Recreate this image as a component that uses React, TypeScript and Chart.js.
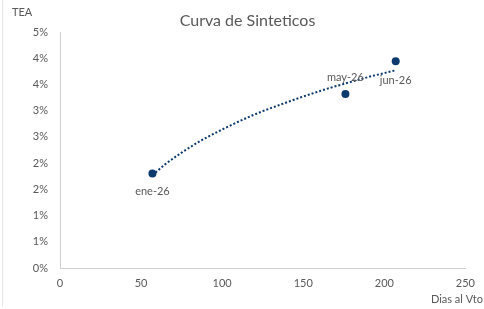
import React, { useEffect, useRef } from "react";
import { Chart, registerables } from "chart.js";

Chart.register(...registerables);

const pointLabels = ["ene-26", "may-26", "jun-26"];
const pointDays = [57, 176, 207];
const pointTea = [1.8, 3.32, 3.94];

// logarithmic trendline
const trendDays = [57, 65, 75, 87, 100, 115, 125, 140, 150, 165, 175, 190, 207];
const trendTea = [1.77, 1.98, 2.2, 2.43, 2.64, 2.86, 2.99, 3.16, 3.27, 3.42, 3.51, 3.64, 3.77];

const yTicks = [0, 0.5, 1, 1.5, 2, 2.5, 3, 3.5, 4, 4.5];
const xTicks = [0, 50, 100, 150, 200, 250];

const TEXT = "#595959";
const NAVY = "#0C3A6C";
const FONT = "Lato, 'Open Sans', sans-serif";

export default function App() {
  const ref = useRef<HTMLCanvasElement | null>(null);

  useEffect(() => {
    document.body.style.margin = "0";
    const canvas = ref.current!;
    const labelPlugin = {
      id: "extras",
      beforeDraw(chart: any) {
        const ctx = chart.ctx;
        ctx.save();
        ctx.strokeStyle = "#E6E6E6";
        ctx.lineWidth = 1;
        ctx.beginPath();
        ctx.moveTo(2.5, 0);
        ctx.lineTo(2.5, 306);
        ctx.stroke();
        ctx.restore();
      },
      afterDraw(chart: any) {
        const ctx = chart.ctx;
        const xs = chart.scales.x;
        const ys = chart.scales.y;
        ctx.save();
        ctx.fillStyle = TEXT;
        ctx.textAlign = "center";
        ctx.textBaseline = "middle";
        ctx.font = `16px ${FONT}`;
        ctx.fillText("Curva de Sinteticos", 247.5, 21);
        ctx.font = `11px ${FONT}`;
        ctx.textAlign = "left";
        ctx.fillText("TEA", 12, 12);
        ctx.textAlign = "right";
        ctx.fillText("Dias al Vto", 483, 299);
        ctx.textAlign = "center";
        const offsets = [18, -16, 19];
        pointLabels.forEach((lab, i) => {
          const px = xs.getPixelForValue(pointDays[i]);
          const py = ys.getPixelForValue(pointTea[i]);
          ctx.fillText(lab, px, py + offsets[i]);
        });
        ctx.restore();
      },
    };

    const chart = new Chart(canvas, {
      type: "scatter",
      data: {
        datasets: [
          {
            label: "Trend",
            data: trendDays.map((d, i) => ({ x: d, y: trendTea[i] })),
            showLine: true,
            borderColor: NAVY,
            borderWidth: 2,
            borderDash: [2, 2],
            pointRadius: 0,
            cubicInterpolationMode: "monotone",
            order: 2,
          } as any,
          {
            label: "TEA",
            data: pointDays.map((d, i) => ({ x: d, y: pointTea[i] })),
            backgroundColor: NAVY,
            borderColor: NAVY,
            pointRadius: 4,
            pointBorderWidth: 0,
            order: 1,
          },
        ],
      },
      options: {
        animation: false,
        responsive: false,
        maintainAspectRatio: false,
        layout: { padding: { top: 32, right: 17, left: 0, bottom: 0 } },
        plugins: {
          legend: { display: false },
          tooltip: { enabled: false },
        },
        scales: {
          x: {
            type: "linear",
            min: 0,
            max: 250,
            afterBuildTicks: (s: any) => {
              s.ticks = xTicks.map((v) => ({ value: v }));
            },
            afterFit: (s: any) => {
              s.height = 41;
            },
            grid: { display: false, drawTicks: false },
            border: { display: true, color: "#D0D0D0", width: 1 },
            ticks: {
              color: TEXT,
              font: { family: FONT, size: 11 },
              padding: 9,
              maxRotation: 0,
            },
          },
          y: {
            type: "linear",
            min: 0,
            max: 4.5,
            afterBuildTicks: (s: any) => {
              s.ticks = yTicks.map((v) => ({ value: v }));
            },
            afterFit: (s: any) => {
              s.width = 60;
            },
            grid: { display: false, drawTicks: false },
            border: { display: true, color: "#D0D0D0", width: 1 },
            ticks: {
              color: TEXT,
              font: { family: FONT, size: 11 },
              padding: 12,
              callback: (v: any) => Math.round(Number(v) + 1e-9) + "%",
            },
          },
        },
      },
      plugins: [labelPlugin],
    });
    return () => chart.destroy();
  }, []);

  return (
    <div style={{ width: 484, height: 309, position: "relative" }}>
      <canvas ref={ref} width={484} height={309} style={{ width: 484, height: 309 }} />
    </div>
  );
}
